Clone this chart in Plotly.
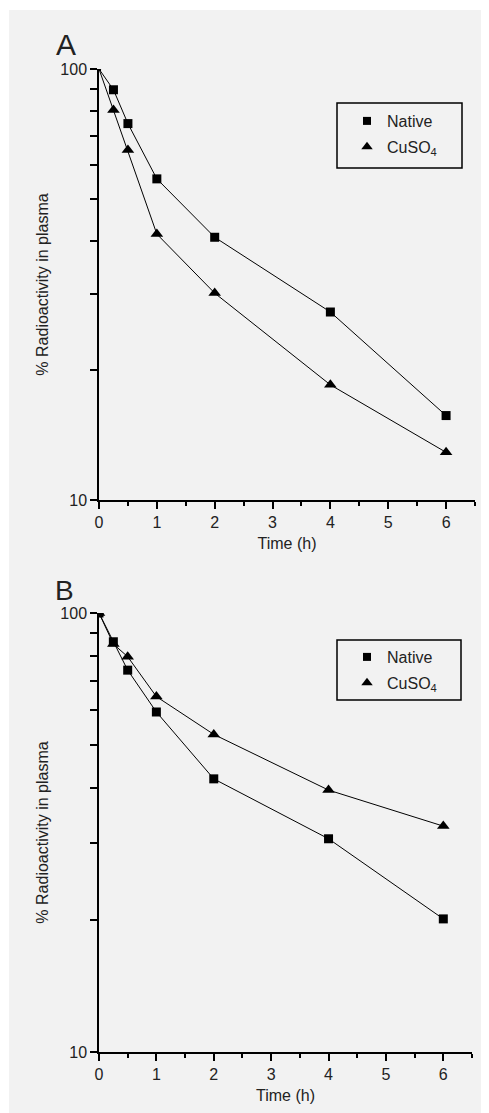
import plotly.graph_objects as go

# ---------------- data ----------------
time_h = [0, 0.25, 0.5, 1, 2, 4, 6]

a_native = [100, 89.5, 74.7, 55.6, 40.7, 27.3, 15.7]
a_cuso4 = [100, 80.3, 64.9, 41.4, 30.2, 18.5, 12.9]

b_native = [100, 86.0, 74.1, 59.5, 41.9, 30.6, 20.1]
b_cuso4 = [100, 85.0, 79.5, 64.5, 52.9, 39.5, 32.7]

series_names = ["Native", "CuSO<sub>4</sub>"]
panel_labels = ["A", "B"]
x_tick_vals = [0, 1, 2, 3, 4, 5, 6]
y_major_vals = [10, 100]
y_minor_vals = [20, 30, 40, 50, 60, 70, 80, 90]
x_title = "Time (h)"
y_title = "% Radioactivity in plasma"

# ---------------- layout constants ----------------
OFF = 8  # page body margin
W, H = 489 - OFF, 1113 - OFF
FONT = "Liberation Sans, Arial, sans-serif"
TXT = "#222222"

def px(x):
    return (x - OFF) / W

def py(y):
    return 1 - (y - OFF) / H

fig = go.Figure()

line_style = dict(color="black", width=1)
sq = dict(symbol="square", color="black", line=dict(width=0), opacity=1)
tri = dict(symbol="triangle-up", color="black", line=dict(width=0), opacity=1)

# panel A
fig.add_trace(go.Scatter(x=time_h, y=a_native, mode="lines+markers", showlegend=False,
                         line=line_style, marker=dict(size=[4, 9, 9, 9, 9, 9, 9], **sq),
                         xaxis="x", yaxis="y"))
fig.add_trace(go.Scatter(x=time_h, y=a_cuso4, mode="lines+markers", showlegend=False,
                         line=line_style, marker=dict(size=[4, 11, 11, 11, 11, 11, 11], **tri),
                         xaxis="x", yaxis="y"))
# panel B
fig.add_trace(go.Scatter(x=time_h, y=b_native, mode="lines+markers", showlegend=False,
                         line=line_style, marker=dict(size=9, **sq),
                         xaxis="x2", yaxis="y2"))
fig.add_trace(go.Scatter(x=time_h, y=b_cuso4, mode="lines+markers", showlegend=False,
                         line=line_style, marker=dict(size=11, **tri),
                         xaxis="x2", yaxis="y2"))

# legend entries (markers only)
for leg, xa, ya in [("legend", "x", "y"), ("legend2", "x2", "y2")]:
    fig.add_trace(go.Scatter(x=[None], y=[None], mode="markers", name=series_names[0],
                             marker=dict(size=8, **sq), legend=leg, legendgroup=leg + "1",
                             xaxis=xa, yaxis=ya))
    fig.add_trace(go.Scatter(x=[None], y=[None], mode="markers", name=series_names[1],
                             marker=dict(size=10, **tri), legend=leg, legendgroup=leg + "2",
                             xaxis=xa, yaxis=ya))

def xaxis_cfg(domain_right, anchor):
    return dict(
        domain=[px(99), px(domain_right)], anchor=anchor, range=[0, 6.5],
        showline=True, linecolor="black", linewidth=1.5, mirror=False,
        showgrid=False, zeroline=False,
        tickmode="array", tickvals=x_tick_vals,
        ticks="outside", ticklen=7, tickwidth=1.5, tickcolor="black",
        minor=dict(dtick=0.5, tick0=0, ticks="outside", ticklen=4, tickwidth=1.5,
                   tickcolor="black", showgrid=False),
        tickfont=dict(family=FONT, size=16, color=TXT),
        title=dict(text=x_title, font=dict(family=FONT, size=16, color=TXT), standoff=8),
        automargin=False, fixedrange=True,
    )

def yaxis_cfg(top, bottom, anchor):
    return dict(
        domain=[py(bottom), py(top)], anchor=anchor, type="log", range=[1, 2],
        showline=True, linecolor="black", linewidth=1.5,
        showgrid=False, zeroline=False,
        tickmode="array", tickvals=y_major_vals,
        ticks="outside", ticklen=7, tickwidth=1.5, tickcolor="black",
        minor=dict(tickmode="array", tickvals=y_minor_vals, ticks="outside", ticklen=7,
                   tickwidth=1.5, tickcolor="black", showgrid=False),
        tickfont=dict(family=FONT, size=16, color=TXT),
        title=dict(text=y_title, font=dict(family=FONT, size=16, color=TXT), standoff=8),
        automargin=False, fixedrange=True,
    )

legend_common = dict(
    bgcolor="rgba(0,0,0,0)", borderwidth=0,
    font=dict(family=FONT, size=16, color=TXT),
    xanchor="left", yanchor="top", tracegroupgap=2,
    itemclick=False, itemdoubleclick=False,
)

fig.update_layout(
    width=W, height=H,
    margin=dict(l=0, r=0, t=0, b=0),
    paper_bgcolor="white", plot_bgcolor="rgba(0,0,0,0)",
    showlegend=True,
    xaxis=xaxis_cfg(475, "y"),
    yaxis=yaxis_cfg(69, 500, "x"),
    xaxis2=xaxis_cfg(472, "y2"),
    yaxis2=yaxis_cfg(613, 1052, "x2"),
    legend=dict(x=px(347), y=py(104), **legend_common),
    legend2=dict(x=px(347), y=py(640), **legend_common),
    shapes=[
        dict(type="rect", xref="paper", yref="paper", x0=px(9), x1=1, y0=0, y1=py(10),
             fillcolor="#f2f2f2", line=dict(width=0), layer="below"),
        dict(type="rect", xref="paper", yref="paper", x0=px(337), x1=px(462), y0=py(168), y1=py(103),
             fillcolor="rgba(0,0,0,0)", line=dict(color="black", width=1.5)),
        dict(type="rect", xref="paper", yref="paper", x0=px(337), x1=px(461), y0=py(700), y1=py(640),
             fillcolor="rgba(0,0,0,0)", line=dict(color="black", width=1.5)),
    ],
    annotations=[
        dict(text=panel_labels[0], xref="paper", yref="paper", x=px(66), y=py(45),
             xanchor="center", yanchor="middle", showarrow=False,
             font=dict(family=FONT, size=30, color=TXT)),
        dict(text=panel_labels[1], xref="paper", yref="paper", x=px(64), y=py(590),
             xanchor="center", yanchor="middle", showarrow=False,
             font=dict(family=FONT, size=28, color=TXT)),
    ],
)

fig.write_html("out.html")
